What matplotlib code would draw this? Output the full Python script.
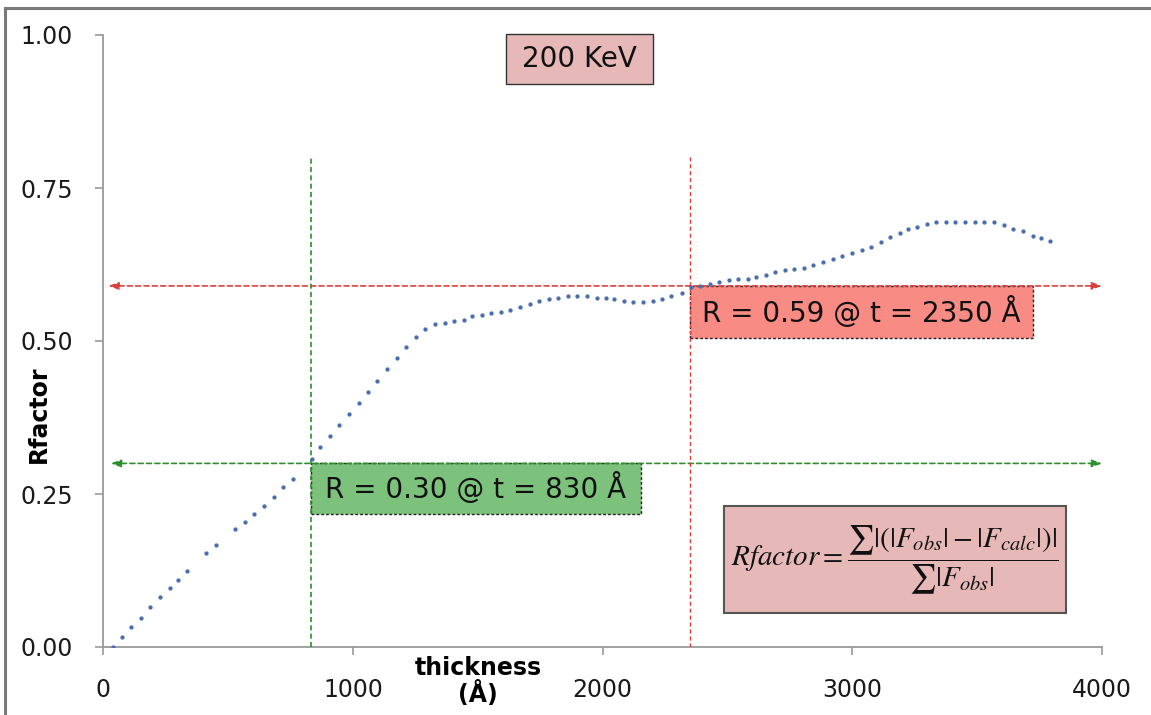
import matplotlib
matplotlib.use("Agg")
import matplotlib.pyplot as plt
from matplotlib.patches import Rectangle
from matplotlib.lines import Line2D

# R-factor vs. sample thickness at 200 keV
thickness = [38, 74, 112, 151, 188, 227, 266, 298, 336, 413, 451, 527, 566, 605,
             644, 682, 721, 760, 837, 868, 907, 945, 984, 1023, 1060, 1097, 1135,
             1175, 1212, 1251, 1290, 1328, 1367, 1406, 1445, 1477, 1515, 1554, 1592,
             1630, 1669, 1708, 1746, 1784, 1822, 1861, 1898, 1937, 1976, 2014, 2047,
             2084, 2123, 2160, 2200, 2238, 2275, 2316, 2354, 2390, 2430, 2467, 2506,
             2543, 2582, 2614, 2653, 2691, 2729, 2766, 2805, 2843, 2882, 2921, 2960,
             2998, 3037, 3076, 3113, 3152, 3190, 3222, 3259, 3298, 3335, 3374, 3412,
             3451, 3490, 3528, 3567, 3606, 3644, 3683, 3722, 3754, 3791]
rfactor = [0.000, 0.016, 0.032, 0.047, 0.065, 0.082, 0.096, 0.110, 0.125, 0.154,
           0.167, 0.193, 0.204, 0.217, 0.230, 0.245, 0.261, 0.275, 0.308, 0.326,
           0.344, 0.362, 0.380, 0.398, 0.417, 0.435, 0.454, 0.472, 0.491, 0.507,
           0.519, 0.527, 0.530, 0.533, 0.535, 0.541, 0.543, 0.546, 0.547, 0.551,
           0.556, 0.560, 0.566, 0.569, 0.571, 0.574, 0.574, 0.574, 0.571, 0.571,
           0.569, 0.566, 0.564, 0.564, 0.566, 0.569, 0.574, 0.579, 0.588, 0.590,
           0.593, 0.596, 0.600, 0.601, 0.601, 0.604, 0.608, 0.612, 0.616, 0.618,
           0.620, 0.624, 0.629, 0.634, 0.639, 0.644, 0.649, 0.653, 0.661, 0.670,
           0.676, 0.683, 0.687, 0.691, 0.694, 0.694, 0.694, 0.694, 0.694, 0.694,
           0.694, 0.689, 0.683, 0.679, 0.672, 0.668, 0.663]

x_ticks = [0, 1000, 2000, 3000, 4000]
y_ticks = [0.0, 0.25, 0.5, 0.75, 1.0]
y_ticklabels = ["0.00", "0.25", "0.50", "0.75", "1.00"]

# marked points: (R, t) for the two thresholds
r_green, t_green = 0.30, 830
r_red, t_red = 0.59, 2350

energy_label = "200 KeV"

fig = plt.figure(figsize=(11.51, 7.15), dpi=100)
ax = fig.add_axes([103.3 / 1151, 68 / 715, 998.8 / 1151, 612 / 715])

axis_grey = "#9a9a9a"
ax.spines["top"].set_visible(False)
ax.spines["right"].set_visible(False)
for side in ("left", "bottom"):
    ax.spines[side].set_color(axis_grey)
    ax.spines[side].set_linewidth(1.3)

ax.set_xlim(0, 4000)
ax.set_ylim(0, 1.0)
ax.set_xticks(x_ticks)
ax.set_yticks(y_ticks)
ax.set_yticklabels(y_ticklabels)
ax.tick_params(axis="both", direction="out", length=6, width=1.2, color=axis_grey,
               labelsize=17, labelcolor="#1a1a1a")
ax.tick_params(axis="x", pad=16)
ax.tick_params(axis="y", pad=16)

ax.set_ylabel("Rfactor", fontsize=17, fontweight="bold")
ax.yaxis.set_label_coords(-0.052, 0.38)
ax.text(0.375, -0.014, "thickness\n(Å)", transform=ax.transAxes, ha="center",
        va="top", fontsize=17, fontweight="bold", linespacing=1.05)

# data points
ax.plot(thickness, rfactor, linestyle="none", marker="o", ms=3.1, mew=0,
        color="#4a6fae", zorder=6)

dash = (0, (3, 2))
red = "#d9413d"
green = "#2e8f2e"

# vertical markers
ax.plot([t_green, t_green], [0, 0.80], color=green, lw=1.2, ls=dash, zorder=4)
ax.plot([t_red, t_red], [0, 0.80], color=red, lw=1.0, ls=dash, zorder=4)

# horizontal double-headed arrows
ax.annotate("", xy=(4000, r_red), xytext=(20, r_red),
            arrowprops=dict(arrowstyle="<|-|>,head_length=0.6,head_width=0.22",
                            color=red, lw=1.2, ls=dash, shrinkA=0, shrinkB=0),
            zorder=3)
ax.annotate("", xy=(4000, r_green), xytext=(30, r_green),
            arrowprops=dict(arrowstyle="<|-|>,head_length=0.6,head_width=0.22",
                            color=green, lw=1.2, ls=dash, shrinkA=0, shrinkB=0),
            zorder=3)

# value boxes
red_box = Rectangle((t_red, r_red - 0.085), 1374, 0.085, facecolor="#f98b85",
                    edgecolor="#222222", lw=1.0, ls=(0, (2, 1.5)), zorder=2)
ax.add_patch(red_box)
ax.text(t_red + 687, r_red - 0.0425, f"R = {r_red:.2f} @ t = {t_red} Å",
        ha="center", va="center", fontsize=20, color="#111111", zorder=5)

green_box = Rectangle((t_green, r_green - 0.082), 1322, 0.082, facecolor="#7cc27c",
                      edgecolor="#222222", lw=1.0, ls=(0, (2, 1.5)), zorder=2)
ax.add_patch(green_box)
ax.text(t_green + 661, r_green - 0.041, f"R = {r_green:.2f} @ t = {t_green} Å",
        ha="center", va="center", fontsize=20, color="#111111", zorder=5)

# beam energy
ax.add_patch(Rectangle((1613, 0.92), 588, 0.082, facecolor="#e6b9b8",
                       edgecolor="#333333", lw=1.0, zorder=2, clip_on=False))
ax.text(1907, 0.961, energy_label, ha="center", va="center", fontsize=20,
        color="#111111", zorder=5)

# R-factor definition
ax.add_patch(Rectangle((2485, 0.0556), 1370, 0.175, facecolor="#e6b9b8",
                       edgecolor="#555555", lw=1.5, zorder=2))
ax.text(3170, 0.143,
        r"$Rfactor = \dfrac{\sum|(|F_{obs}|-|F_{calc}|)|}{\sum|F_{obs}|}$",
        ha="center", va="center", fontsize=21, math_fontfamily="stix",
        color="#111111", zorder=5)

# outer frame (left and top edges)
frame_grey = "#7a7a7a"
fig.add_artist(Line2D([5 / 1151, 5 / 1151], [0, 1 - 8 / 715],
                      transform=fig.transFigure, color=frame_grey, lw=2.2))
fig.add_artist(Line2D([5 / 1151, 1], [1 - 8 / 715, 1 - 8 / 715],
                      transform=fig.transFigure, color=frame_grey, lw=2.2))

fig.savefig("out.png", dpi=100)
